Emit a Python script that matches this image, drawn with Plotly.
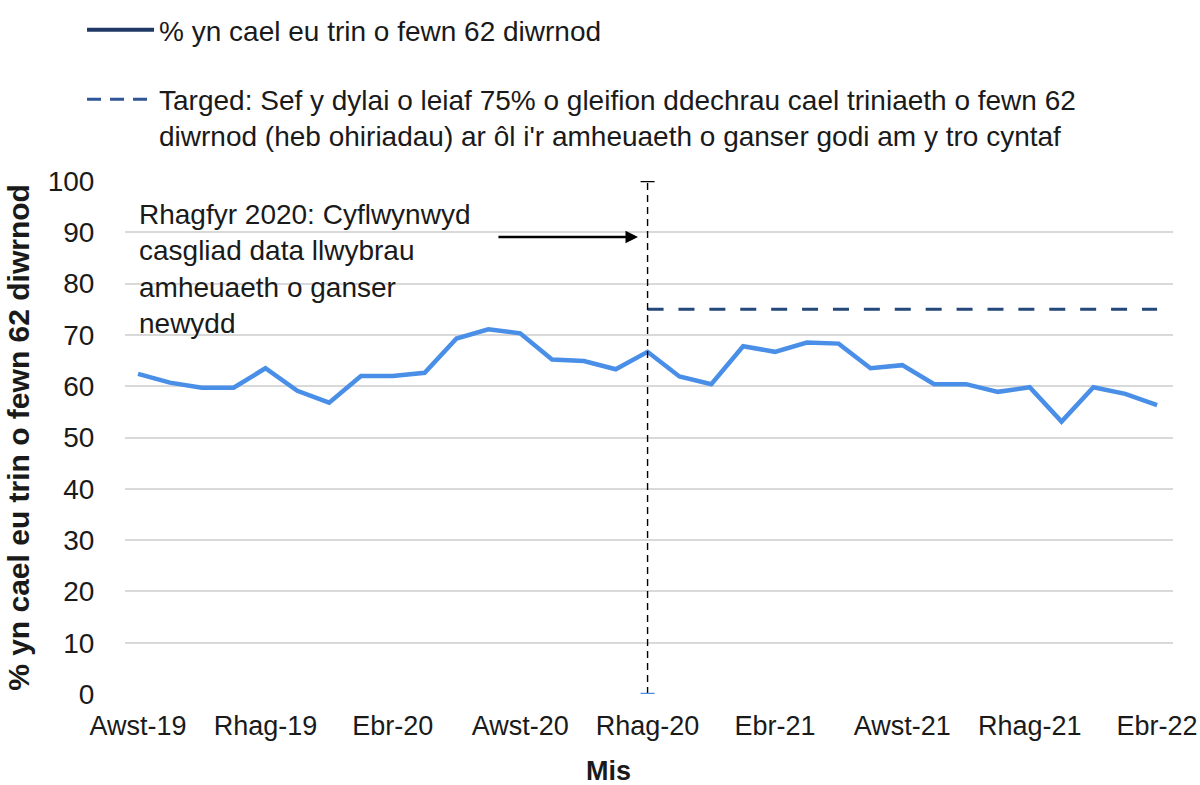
import plotly.graph_objects as go

months = ["Awst-19", "Medi-19", "Hyd-19", "Tach-19", "Rhag-19",
          "Ion-20", "Chwef-20", "Maw-20", "Ebr-20", "Mai-20", "Meh-20", "Gorff-20",
          "Awst-20", "Medi-20", "Hyd-20", "Tach-20", "Rhag-20",
          "Ion-21", "Chwef-21", "Maw-21", "Ebr-21", "Mai-21", "Meh-21", "Gorff-21",
          "Awst-21", "Medi-21", "Hyd-21", "Tach-21", "Rhag-21",
          "Ion-22", "Chwef-22", "Maw-22", "Ebr-22"]

pct_62 = [62.4, 60.7, 59.7, 59.7, 63.5, 59.1, 56.8, 62.0, 62.0, 62.6, 69.3, 71.1,
          70.3, 65.2, 64.9, 63.3, 66.7, 61.9, 60.4, 67.8, 66.7, 68.5, 68.3, 63.5,
          64.1, 60.4, 60.4, 58.9, 59.8, 53.1, 59.8, 58.5, 56.3]

target = [None] * 16 + [75] * 17

tick_labels = ["Awst-19", "Rhag-19", "Ebr-20", "Awst-20", "Rhag-20",
               "Ebr-21", "Awst-21", "Rhag-21", "Ebr-22"]

marker_month = "Rhag-20"
marker_range = [0, 100]

FONT = "Liberation Sans, Arial, sans-serif"
TXT = "#1a1a1a"

fig = go.Figure()

# legend-only entries
fig.add_trace(go.Scatter(x=[None], y=[None], mode="lines",
                         line=dict(color="#1F3864", width=4),
                         name="% yn cael eu trin o fewn 62 diwrnod",
                         legendgroup="a"))
fig.add_trace(go.Scatter(x=[None], y=[None], mode="lines",
                         line=dict(color="#2F5597", width=3, dash="14px,9px"),
                         name="Targed: Sef y dylai o leiaf 75% o gleifion ddechrau cael triniaeth o fewn 62<br>diwrnod (heb ohiriadau) ar ôl i'r amheuaeth o ganser godi am y tro cyntaf",
                         legendgroup="b"))

fig.add_trace(go.Scatter(x=months, y=pct_62, mode="lines",
                         line=dict(color="#4A8FE7", width=4.5),
                         showlegend=False))
fig.add_trace(go.Scatter(x=months, y=target, mode="lines",
                         line=dict(color="#24487A", width=3, dash="16px,14.9px"),
                         showlegend=False))
fig.add_trace(go.Scatter(x=[marker_month, marker_month], y=marker_range,
                         mode="lines",
                         line=dict(color="black", width=1.4, dash="7px,5px"),
                         showlegend=False))
fig.add_trace(go.Scatter(x=[marker_month, marker_month], y=marker_range,
                         mode="markers",
                         marker=dict(symbol="line-ew", size=10,
                                     line=dict(width=2.5, color=["#4A8FE7", "black"])),
                         showlegend=False))

fig.add_annotation(x=15.70, y=89.1, ax=11.27, ay=89.1, xref="x", yref="y",
                   axref="x", ayref="y", text="", showarrow=True,
                   arrowhead=2, arrowsize=1, arrowwidth=2.5, arrowcolor="black")
fig.add_annotation(x=-0.02, y=96.8, xref="x", yref="y", xanchor="left", yanchor="top",
                   text="Rhagfyr 2020: Cyflwynwyd<br>casgliad data llwybrau<br>amheuaeth o ganser<br>newydd",
                   showarrow=False, align="left",
                   font=dict(family=FONT, size=28, color=TXT))
fig.add_annotation(x=0.461, y=-0.15, xref="paper", yref="paper",
                   xanchor="center", yanchor="middle", showarrow=False,
                   text="<b>Mis</b>", font=dict(family=FONT, size=27, color=TXT))

fig.update_layout(
    width=1200, height=785,
    paper_bgcolor="white", plot_bgcolor="white",
    margin=dict(l=125, r=27, t=181, b=91, autoexpand=False),
    font=dict(family=FONT, size=27, color=TXT),
    legend=dict(x=-0.041, y=1.343, xanchor="left", yanchor="top",
                traceorder="grouped", tracegroupgap=30, valign="top",
                font=dict(family=FONT, size=28, color=TXT),
                itemwidth=67, bgcolor="rgba(0,0,0,0)"),
    xaxis=dict(type="category", categoryorder="array", categoryarray=months,
               tickmode="array", tickvals=tick_labels, ticktext=tick_labels,
               range=[-0.41, 32.5], showgrid=False, showline=False,
               zeroline=False, ticks="outside", ticklen=8,
               tickcolor="rgba(0,0,0,0)",
               tickfont=dict(family=FONT, size=27, color=TXT)),
    yaxis=dict(range=[0, 100], tickmode="linear", tick0=0, dtick=10,
               showgrid=True, gridcolor="#d9d9d9", gridwidth=1.5,
               zeroline=False, showline=False, ticks="outside", ticklen=24,
               tickcolor="rgba(0,0,0,0)",
               tickfont=dict(family=FONT, size=28, color=TXT),
               title=dict(text="<b>% yn cael eu trin o fewn 62 diwrnod</b>",
                          font=dict(family=FONT, size=30, color=TXT), standoff=9)),
)

fig.write_html("out.html", config={"displayModeBar": False},
               post_script="document.body.style.margin='0';")
